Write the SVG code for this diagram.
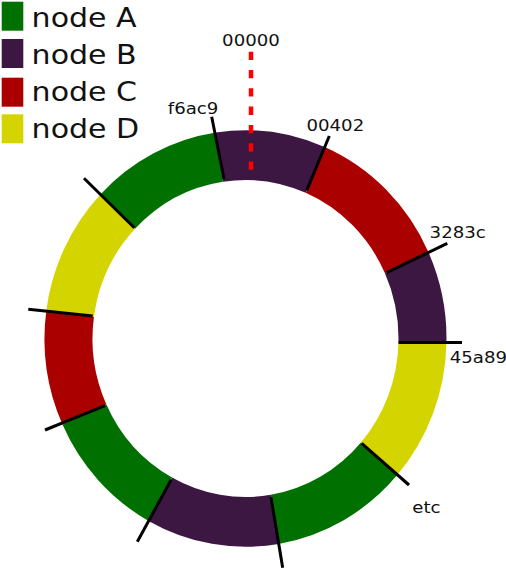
<svg xmlns="http://www.w3.org/2000/svg" width="506" height="569" viewBox="0 0 506 569">
  <style>
    .seg { fill: none; stroke-width: 48; stroke-linecap: butt; }
    .a { stroke: #007000; }
    .b { stroke: #3b1741; }
    .c { stroke: #aa0000; }
    .d { stroke: #d4d400; }
    .tick { stroke: #000; stroke-width: 3; stroke-linecap: butt; }
    .lbl { font-family: "DejaVu Sans", "Liberation Sans", sans-serif; font-size: 16.5px; fill: #111; }
    .leg { font-family: "DejaVu Sans", "Liberation Sans", sans-serif; font-size: 27.3px; fill: #111; }
  </style>

  <!-- legend -->
  <g id="legend">
    <g id="legend-a">
      <rect x="1.7" y="1.7" width="21.6" height="29" fill="#007000"/>
      <text class="leg" transform="translate(31.6,26.7) scale(1.1,1)">node A</text>
    </g>
    <g id="legend-b">
      <rect x="1.7" y="39" width="21.6" height="29" fill="#3b1741"/>
      <text class="leg" transform="translate(31.6,63.8) scale(1.1,1)">node B</text>
    </g>
    <g id="legend-c">
      <rect x="1.7" y="77.7" width="21.6" height="29" fill="#aa0000"/>
      <text class="leg" transform="translate(31.6,100.9) scale(1.1,1)">node C</text>
    </g>
    <g id="legend-d">
      <rect x="1.7" y="114.3" width="21.6" height="29" fill="#d4d400"/>
      <text class="leg" transform="translate(31.6,138) scale(1.1,1)">node D</text>
    </g>
  </g>

  <!-- hash ring, arcs run clockwise from the top -->
  <g id="ring" transform="translate(245.5,338.5) scale(1,1.036)">
    <path id="seg-1" class="seg b" d="M -26.16 -175.05 A 177 177 0 0 1 69.72 -162.68"/>
    <path id="seg-2" class="seg c" d="M 69.72 -162.68 A 177 177 0 0 1 161.32 -72.84"/>
    <path id="seg-3" class="seg b" d="M 161.32 -72.84 A 177 177 0 0 1 176.94 4.63"/>
    <path id="seg-4" class="seg d" d="M 176.94 4.63 A 177 177 0 0 1 133.58 116.13"/>
    <path id="seg-5" class="seg a" d="M 133.58 116.13 A 177 177 0 0 1 29.21 174.58"/>
    <path id="seg-6" class="seg b" d="M 29.21 174.58 A 177 177 0 0 1 -85.0 155.25"/>
    <path id="seg-7" class="seg a" d="M -85.0 155.25 A 177 177 0 0 1 -161.07 73.40"/>
    <path id="seg-8" class="seg c" d="M -161.07 73.40 A 177 177 0 0 1 -175.36 -24.02"/>
    <path id="seg-9" class="seg d" d="M -175.36 -24.02 A 177 177 0 0 1 -127.76 -122.50"/>
    <path id="seg-10" class="seg a" d="M -127.76 -122.50 A 177 177 0 0 1 -26.16 -175.05"/>
  </g>

  <!-- boundary ticks -->
  <g id="ticks">
    <line class="tick" x1="224" y1="179.3" x2="211.7" y2="116.7"/>
    <line class="tick" x1="306.7" y1="190.5" x2="329.3" y2="136"/>
    <line class="tick" x1="386.7" y1="272.7" x2="447.3" y2="243.3"/>
    <line class="tick" x1="398.5" y1="342.5" x2="462" y2="342.5"/>
    <line class="tick" x1="361.7" y1="443.3" x2="409" y2="485"/>
    <line class="tick" x1="271" y1="497.3" x2="282.7" y2="567.7"/>
    <line class="tick" x1="171" y1="480" x2="137.3" y2="541.7"/>
    <line class="tick" x1="105" y1="405.7" x2="45" y2="430"/>
    <line class="tick" x1="92.7" y1="316" x2="28.3" y2="309.3"/>
    <line class="tick" x1="134.3" y1="227.7" x2="84" y2="178.3"/>
  </g>

  <!-- zero marker -->
  <line id="zero" x1="251" y1="51.7" x2="251" y2="170.5" stroke="#ff0000" stroke-width="4.5" stroke-dasharray="8.3 10"/>

  <!-- position labels -->
  <g id="labels">
    <text class="lbl" transform="translate(222.1,46) scale(1.1,1)">00000</text>
    <text class="lbl" transform="translate(167.8,114) scale(1.1,1)">f6ac9</text>
    <text class="lbl" transform="translate(306.5,131) scale(1.1,1)">00402</text>
    <text class="lbl" transform="translate(429.6,238.3) scale(1.1,1)">3283c</text>
    <text class="lbl" transform="translate(449.8,362.7) scale(1.1,1)">45a89</text>
    <text class="lbl" transform="translate(412.3,512.7) scale(1.1,1)">etc</text>
  </g>
</svg>
